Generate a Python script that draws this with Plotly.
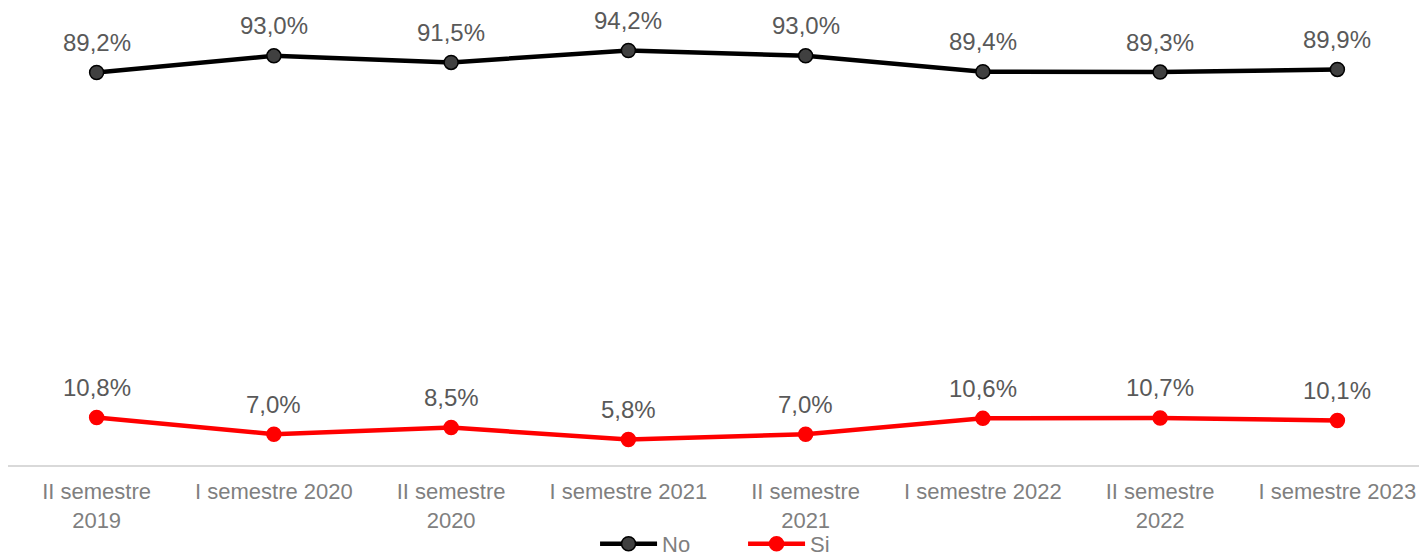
import plotly.graph_objects as go

categories = ["II semestre<br>2019", "I semestre 2020", "II semestre<br>2020", "I semestre 2021",
              "II semestre<br>2021", "I semestre 2022", "II semestre<br>2022", "I semestre 2023"]
no_vals = [89.2, 93.0, 91.5, 94.2, 93.0, 89.4, 89.3, 89.9]
si_vals = [10.8, 7.0, 8.5, 5.8, 7.0, 10.6, 10.7, 10.1]

def fmt(v):
    return f"{v:.1f}%".replace(".", ",")

fig = go.Figure()
fig.add_trace(go.Scatter(x=categories, y=no_vals, name="No", mode="lines+markers",
                         line=dict(color="#000000", width=4.5),
                         marker=dict(size=14, color="#404040", line=dict(color="#000000", width=1.5))))
fig.add_trace(go.Scatter(x=categories, y=si_vals, name="Si", mode="lines+markers",
                         line=dict(color="#ff0000", width=4.5),
                         marker=dict(size=14, color="#ff0000", line=dict(color="#ff0000", width=1.5))))

annotations = []
for series in (no_vals, si_vals):
    for c, v in zip(categories, series):
        annotations.append(dict(x=c, y=v, text=fmt(v), showarrow=False, yshift=30,
                                font=dict(size=24, color="#595959", family="Liberation Sans, Arial")))

# page body has an 8px margin, so the figure is sized to fit the 1427x556 window
fig.update_layout(
    width=1419, height=548,
    margin=dict(l=0, r=1, t=17, b=91, autoexpand=False),
    plot_bgcolor="white", paper_bgcolor="white",
    font=dict(family="Liberation Sans, Arial", color="#7f7f7f", size=22),
    annotations=annotations,
    showlegend=True,
    legend=dict(orientation="h", x=0.414, xanchor="left", y=-0.1795, yanchor="middle",
                bgcolor="rgba(0,0,0,0)",
                font=dict(size=22, color="#7f7f7f"), tracegroupgap=0,
                itemwidth=57, entrywidth=76, entrywidthmode="pixels"),
    xaxis=dict(type="category", range=[-0.5, 7.5], showgrid=False, showline=True,
               linecolor="#d9d9d9", linewidth=1.5, ticks="", ticklabelstandoff=6,
               tickfont=dict(size=22, color="#7f7f7f")),
    yaxis=dict(range=[0, 100], visible=False, showgrid=False, zeroline=False),
)

fig.write_html("out.html")
